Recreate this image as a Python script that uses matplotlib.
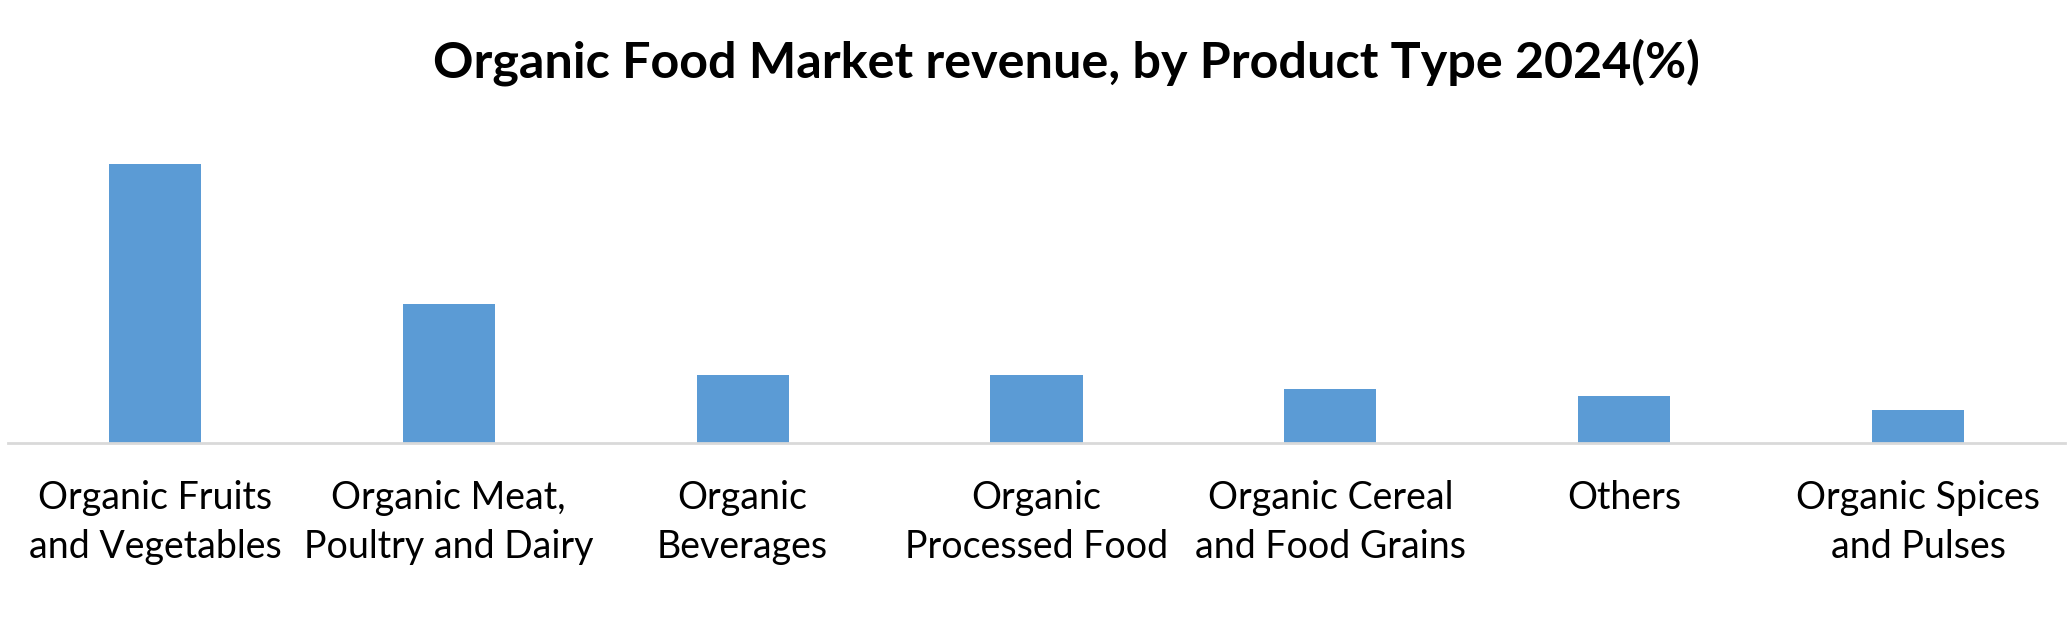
import matplotlib
matplotlib.use("Agg")
import matplotlib.pyplot as plt
import matplotlib.transforms as mtransforms

# ---- data ----
categories_line1 = ["Organic Fruits", "Organic Meat,", "Organic", "Organic",
                    "Organic Cereal", "Others", "Organic Spices"]
categories_line2 = ["and Vegetables", "Poultry and Dairy", "Beverages",
                    "Processed Food", "and Food Grains", "", "and Pulses"]
values = [40.6, 20.2, 9.9, 9.9, 7.8, 6.8, 4.8]
title = "Organic Food Market revenue, by Product Type 2024(%)"

W, H, DPI = 2067, 621, 100
fig = plt.figure(figsize=(W / DPI, H / DPI), dpi=DPI)
fig.patch.set_facecolor("white")

ax_left, ax_right = 8, 2065
ax_top, ax_bottom = 99.8, 443
ax = fig.add_axes([ax_left / W, (H - ax_bottom) / H,
                   (ax_right - ax_left) / W, (ax_bottom - ax_top) / H])

x = list(range(len(values)))
ax.bar(x, values, width=0.3135, color="#5B9BD5", zorder=2)
ax.set_xlim(-0.5, len(values) - 0.5)
ax.set_ylim(0, 50)

for s in ["top", "right", "left"]:
    ax.spines[s].set_visible(False)
ax.spines["bottom"].set_color("#D9D9D9")
ax.spines["bottom"].set_linewidth(2.0)
ax.spines["bottom"].set_zorder(3)
ax.set_yticks([])
ax.set_xticks(x)
ax.set_xticklabels([])
ax.tick_params(axis="x", length=0)

trans = mtransforms.blended_transform_factory(ax.transData, fig.transFigure)
for xi, l1, l2 in zip(x, categories_line1, categories_line2):
    ax.text(xi, 1 - 509 / H, l1, transform=trans, ha="center", va="baseline",
            fontsize=27, family="Lato", color="black")
    if l2:
        ax.text(xi, 1 - 558 / H, l2, transform=trans, ha="center", va="baseline",
                fontsize=27, family="Lato", color="black")

fig.text(1066 / W, 1 - 78 / H, title, ha="center", va="baseline",
         fontsize=36.2, fontweight="bold", family="Lato", color="black")

fig.savefig("out.png", dpi=DPI, facecolor="white")
